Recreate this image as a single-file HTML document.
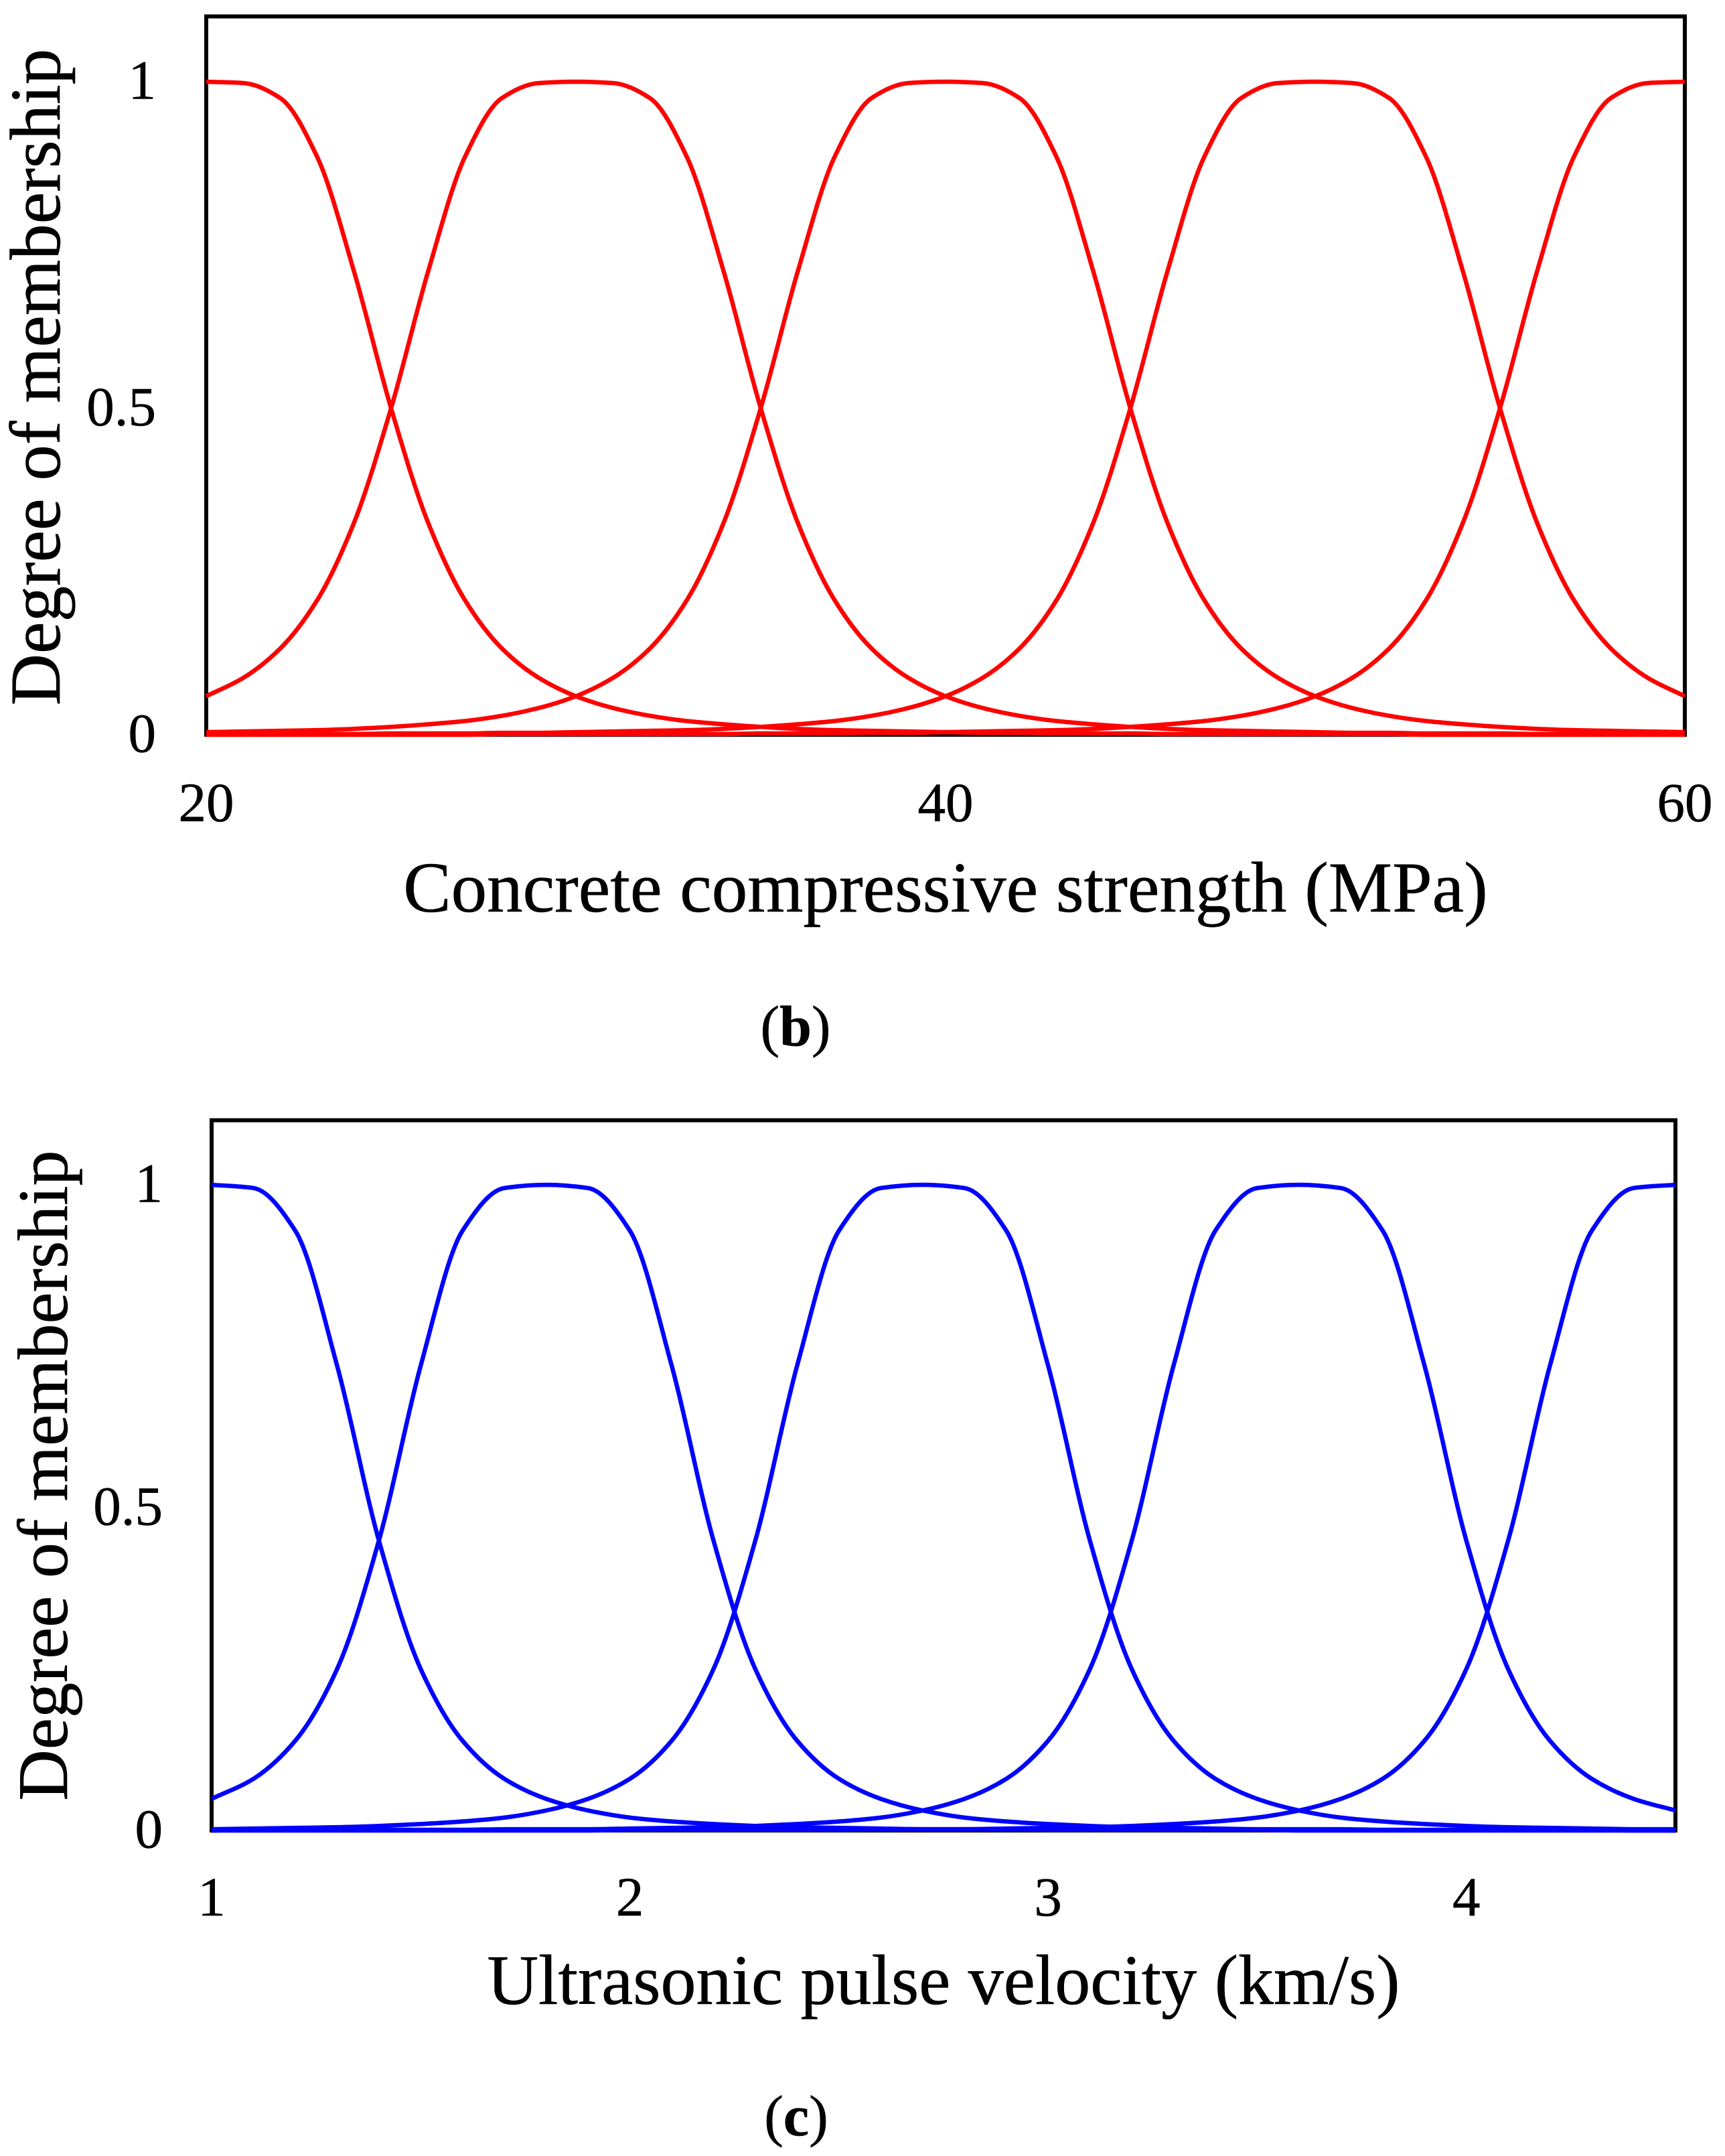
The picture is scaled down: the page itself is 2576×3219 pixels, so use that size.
<!DOCTYPE html>
<html lang="en">
<head>
<meta charset="utf-8">
<title>Membership functions</title>
<style>
html,body{margin:0;padding:0;background:#fff;}
svg{display:block;}
text{font-family:"Liberation Serif",serif;fill:#000;stroke:#000;stroke-width:0.6px;}
</style>
</head>
<body>
<svg id="figure" xmlns="http://www.w3.org/2000/svg" width="2576" height="3219" viewBox="0 0 2576 3219"></svg>
<script>
// Panel (b): concrete compressive strength
const strengthX = [20,21,22,23,24,25,26,27,28,29,30,31,32,33,34,35,36,37,38,39,40,41,42,43,44,45,46,47,48,49,50,51,52,53,54,55,56,57,58,59,60];
const strengthMf1 = [1,.998,.975,.885,.709,.5,.325,.206,.132,.087,.059,.041,.029,.021,.016,.012,.009,.007,.006,.005,.004,.003,.003,.002,.002,.002,.001,.001,.001,.001,.001,.001,.001,0,0,0,0,0,0,0,0];
const strengthMf2 = [.059,.087,.132,.206,.325,.5,.709,.885,.975,.998,1,.998,.975,.885,.709,.5,.325,.206,.132,.087,.059,.041,.029,.021,.016,.012,.009,.007,.006,.005,.004,.003,.003,.002,.002,.002,.001,.001,.001,.001,.001];
const strengthMf3 = [.004,.005,.006,.007,.009,.012,.016,.021,.029,.041,.059,.087,.132,.206,.325,.5,.709,.885,.975,.998,1,.998,.975,.885,.709,.5,.325,.206,.132,.087,.059,.041,.029,.021,.016,.012,.009,.007,.006,.005,.004];
const strengthMf4 = [.001,.001,.001,.001,.001,.002,.002,.002,.003,.003,.004,.005,.006,.007,.009,.012,.016,.021,.029,.041,.059,.087,.132,.206,.325,.5,.709,.885,.975,.998,1,.998,.975,.885,.709,.5,.325,.206,.132,.087,.059];
const strengthMf5 = [0,0,0,0,0,0,0,0,.001,.001,.001,.001,.001,.001,.001,.002,.002,.002,.003,.003,.004,.005,.006,.007,.009,.012,.016,.021,.029,.041,.059,.087,.132,.206,.325,.5,.709,.885,.975,.998,1];
const strengthXTicks = [20,40,60];
const strengthYTicks = [0,0.5,1];

// Panel (c): ultrasonic pulse velocity
const velocityX = [1,1.1,1.2,1.3,1.4,1.5,1.6,1.7,1.8,1.9,2,2.1,2.2,2.3,2.4,2.5,2.6,2.7,2.8,2.9,3,3.1,3.2,3.3,3.4,3.5,3.6,3.7,3.8,3.9,4,4.1,4.2,4.3,4.4,4.5];
const velocityMf1 = [1,.995,.929,.72,.449,.25,.139,.08,.049,.031,.02,.014,.01,.007,.005,.004,.003,.002,.002,.002,.001,.001,.001,.001,.001,.001,0,0,0,0,0,0,0,0,0,0];
const velocityMf2 = [.049,.08,.139,.25,.449,.72,.929,.995,1,.995,.929,.72,.449,.25,.139,.08,.049,.031,.02,.014,.01,.007,.005,.004,.003,.002,.002,.002,.001,.001,.001,.001,.001,.001,0,0];
const velocityMf3 = [.002,.003,.004,.005,.007,.01,.014,.02,.031,.049,.08,.139,.25,.449,.72,.929,.995,1,.995,.929,.72,.449,.25,.139,.08,.049,.031,.02,.014,.01,.007,.005,.004,.003,.002,.002];
const velocityMf4 = [0,.001,.001,.001,.001,.001,.001,.002,.002,.002,.003,.004,.005,.007,.01,.014,.02,.031,.049,.08,.139,.25,.449,.72,.929,.995,1,.995,.929,.72,.449,.25,.139,.08,.049,.031];
const velocityMf5 = [0,0,0,0,0,0,0,0,0,0,.001,.001,.001,.001,.001,.001,.002,.002,.002,.003,.004,.005,.007,.01,.014,.02,.031,.049,.08,.139,.25,.449,.72,.929,.995,1];
const velocityXTicks = [1,2,3,4];
const velocityYTicks = [0,0.5,1];

const svgNS = 'http://www.w3.org/2000/svg';
const figure = document.getElementById('figure');

function linear(d0, d1, r0, r1) {
  return function (v) { return r0 + (v - d0) * (r1 - r0) / (d1 - d0); };
}

// Monotone cubic path: no overshoot at the flat tops of the curves.
function smoothPath(xs, ys, xFn, yFn) {
  const p = xs.map(function (x, i) { return [xFn(x), yFn(ys[i])]; });
  const n = p.length;
  const slopes = [];
  for (let i = 0; i < n - 1; i++) {
    slopes.push((p[i + 1][1] - p[i][1]) / (p[i + 1][0] - p[i][0]));
  }
  const tan = [slopes[0]];
  for (let i = 1; i < n - 1; i++) {
    const s0 = slopes[i - 1], s1 = slopes[i];
    tan.push(s0 * s1 <= 0 ? 0 : 2 * s0 * s1 / (s0 + s1));
  }
  tan.push(slopes[n - 2]);
  let d = 'M' + p[0][0].toFixed(2) + ' ' + p[0][1].toFixed(2);
  for (let i = 0; i < n - 1; i++) {
    const h = (p[i + 1][0] - p[i][0]) / 3;
    d += 'C' + (p[i][0] + h).toFixed(2) + ' ' + (p[i][1] + tan[i] * h).toFixed(2) + ' ' +
      (p[i + 1][0] - h).toFixed(2) + ' ' + (p[i + 1][1] - tan[i + 1] * h).toFixed(2) + ' ' +
      p[i + 1][0].toFixed(2) + ' ' + p[i + 1][1].toFixed(2);
  }
  return d;
}

function addText(parent, content, x, y, size, anchor, transform) {
  const t = document.createElementNS(svgNS, 'text');
  t.setAttribute('x', x);
  t.setAttribute('y', y);
  t.setAttribute('font-size', size);
  t.setAttribute('text-anchor', anchor);
  if (transform) t.setAttribute('transform', transform);
  t.textContent = content;
  parent.appendChild(t);
  return t;
}

function drawPanel(cfg) {
  const g = document.createElementNS(svgNS, 'g');
  
  
  figure.appendChild(g);

  const xFn = linear(cfg.xMin, cfg.xMax, cfg.left, cfg.right);
  const yFn = linear(0, 1, cfg.y0, cfg.y1);
  const top = yFn(1.1);

  const frame = document.createElementNS(svgNS, 'rect');
  frame.setAttribute('x', cfg.left);
  frame.setAttribute('y', top);
  frame.setAttribute('width', cfg.right - cfg.left);
  frame.setAttribute('height', cfg.y0 - top);
  frame.setAttribute('fill', 'none');
  frame.setAttribute('stroke', '#000');
  frame.setAttribute('stroke-width', '6');
  
  
  g.appendChild(frame);

  cfg.series.forEach(function (values, i) {
    const path = document.createElementNS(svgNS, 'path');
    path.setAttribute('d', smoothPath(cfg.xs, values, xFn, yFn));
    path.setAttribute('fill', 'none');
    path.setAttribute('stroke', cfg.color);
    path.setAttribute('stroke-width', '6.5');
    path.setAttribute('stroke-linejoin', 'round');
    
    
    g.appendChild(path);
  });

  cfg.xTicks.forEach(function (v) {
    const t = addText(g, String(v), xFn(v), cfg.xTickBase, 83, 'middle');
    
    
  });
  cfg.yTicks.forEach(function (v) {
    const t = addText(g, String(v), cfg.yTickRight, yFn(v) + 25.5, 83, 'end');
    
    
  });

  const xTitle = addText(g, cfg.xTitle, cfg.xTitleX, cfg.xTitleY, cfg.xTitleSize, 'middle');
  
  

  const yTitle = addText(g, 'Degree of membership', 0, 0, cfg.yTitleSize, 'middle',
    'translate(' + cfg.yTitleX + ' ' + cfg.yTitleY + ') rotate(-90)');
  
  

  const cap = addText(g, '', cfg.capX, cfg.capY, 86, 'middle');
  
  
  const open = document.createElementNS(svgNS, 'tspan');
  open.textContent = '(';
  const letter = document.createElementNS(svgNS, 'tspan');
  letter.setAttribute('font-weight', 'bold');
  letter.textContent = cfg.capLetter;
  const close = document.createElementNS(svgNS, 'tspan');
  close.textContent = ')';
  cap.appendChild(open);
  cap.appendChild(letter);
  cap.appendChild(close);
}

drawPanel({
  name: 'strength-panel',
  color: '#ff0000',
  xs: strengthX,
  series: [strengthMf1, strengthMf2, strengthMf3, strengthMf4, strengthMf5],
  xMin: 20, xMax: 60, left: 308, right: 2516, y0: 1097, y1: 122,
  xTicks: strengthXTicks, yTicks: strengthYTicks,
  xTickBase: 1226, yTickRight: 233,
  xTitle: 'Concrete compressive strength (MPa)', xTitleX: 1412, xTitleY: 1361, xTitleSize: 107,
  yTitleX: 89, yTitleY: 563, yTitleSize: 107,
  capX: 1188, capY: 1561, capLetter: 'b'
});

drawPanel({
  name: 'velocity-panel',
  color: '#0000ff',
  xs: velocityX,
  series: [velocityMf1, velocityMf2, velocityMf3, velocityMf4, velocityMf5],
  xMin: 1, xMax: 4.5, left: 316, right: 2502, y0: 2733, y1: 1769,
  xTicks: velocityXTicks, yTicks: velocityYTicks,
  xTickBase: 2860, yTickRight: 243,
  xTitle: 'Ultrasonic pulse velocity (km/s)', xTitleX: 1409, xTitleY: 2992, xTitleSize: 106,
  yTitleX: 100, yTitleY: 2203, yTitleSize: 106,
  capX: 1189, capY: 3188, capLetter: 'c'
});
</script>
</body>
</html>
